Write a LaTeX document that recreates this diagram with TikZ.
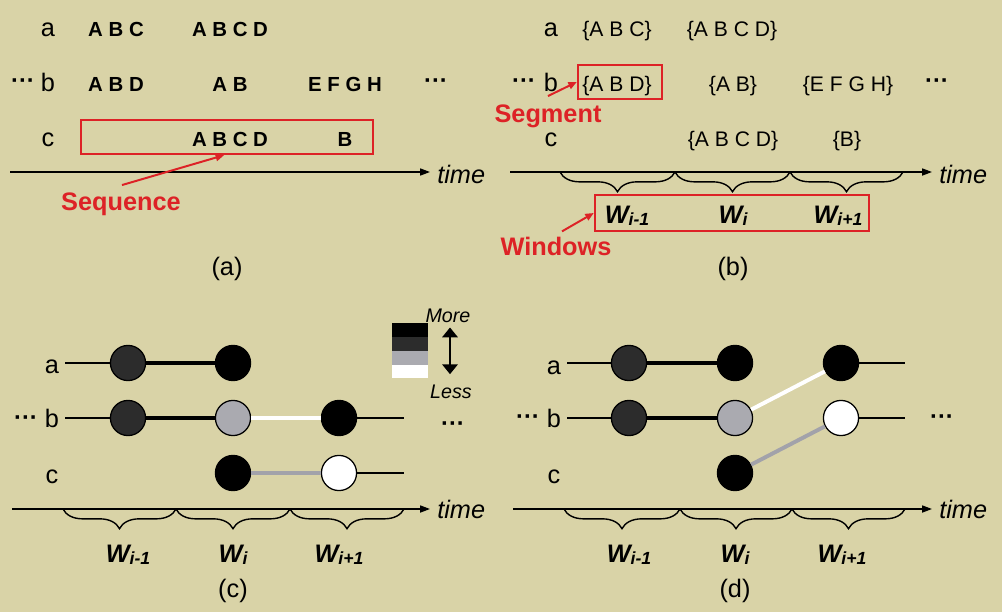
\documentclass[tikz,border=0pt]{standalone}
\usepackage{fontspec}
\setmainfont{Liberation Sans}
\usetikzlibrary{arrows.meta,calc,positioning,decorations.pathreplacing}
\definecolor{PaperTan}{RGB}{217,211,167}
\definecolor{MarkRed}{RGB}{221,34,38}
\definecolor{DarkDot}{RGB}{44,44,44}
\definecolor{PaleDot}{RGB}{170,170,176}
\definecolor{FadeGray}{RGB}{162,162,170}
\newcommand{\wsub}[1]{W\raisebox{-1.5pt}{\fontsize{12.5}{14}\selectfont #1}}
\tikzset{
  txt/.style={inner sep=0pt,anchor=base},
  rowlbl/.style={txt,font=\fontsize{18}{20}\selectfont},
  itemA/.style={txt,font=\bfseries\fontsize{14.5}{16}\selectfont},
  itemB/.style={txt,font=\fontsize{15}{17}\selectfont},
  moredots/.style={txt,font=\bfseries\fontsize{17}{18}\selectfont},
  redtag/.style={txt,font=\bfseries\fontsize{18}{20}\selectfont,text=MarkRed},
  redbox/.style={draw=MarkRed,line width=1.7pt,inner sep=0pt},
  redarrow/.style={draw=MarkRed,line width=1.4pt,-{Triangle[length=6pt,width=5pt]}},
  timeaxis/.style={line width=1pt,-{Triangle[length=7pt,width=5pt]}},
  timelbl/.style={inner sep=0pt,anchor=base west,font=\itshape\fontsize{18}{20}\selectfont},
  winbrace/.style={decorate,decoration={brace,mirror,amplitude=14pt},line width=1pt},
  winlbl/.style={txt,font=\bfseries\itshape\fontsize{18}{20}\selectfont},
  panellbl/.style={txt,font=\fontsize{18}{20}\selectfont},
  ball/.style={circle,draw=black,line width=0.9pt,minimum size=25pt,inner sep=0pt},
  tie/.style={line width=2.8pt},
  tail/.style={line width=0.9pt},
  scalelbl/.style={txt,font=\itshape\fontsize{14}{16}\selectfont},
  scalearrow/.style={line width=1.4pt,{Triangle[length=7pt,width=11pt]}-{Triangle[length=7pt,width=11pt]}},
}

\begin{document}
\begin{tikzpicture}[x=0.025cm,y=-0.025cm]
\useasboundingbox (0,0) rectangle (1002,612);
\fill[PaperTan] (0,0) rectangle (1002,612);

% (a) raw sequences
\node[rowlbl] (ra) at (48,36) {a};
\node[rowlbl] (rb) at (48,91) {b};
\node[rowlbl] (rc) at (48,146) {c};
\node[moredots] (la) at (23,88) {···};
\node[itemA] (a1) at (116,36) {A B C};
\node[itemA] (a2) at (230,36) {A B C D};
\node[itemA] (a3) at (116,91) {A B D};
\node[itemA] (a4) at (230,91) {A B};
\node[itemA] (a5) at (345,91) {E F G H};
\node[moredots] (ma) at (436,88) {···};
\node[itemA] (a6) at (230,146) {A B C D};
\node[itemA] (a7) at (345,146) {B};
\node[redbox,minimum width=7.3cm,minimum height=0.85cm] (seqbox) at (227,137) {};
\coordinate (ta0) at (10,172);
\coordinate (ta1) at (430,172);
\draw[timeaxis] (ta0) -- (ta1);
\node[timelbl] (tta) at (437,183) {time};
\node[redtag] (seq) at (121,210) {Sequence};
\draw[redarrow] ($(seq.north)+(1,-7)$) -- ($(seqbox.south west)!0.49!(seqbox.south east)$);
\node[panellbl] (capa) at (227,275) {(a)};

% (b) segments and windows
\node[rowlbl] (sa) at (551,36) {a};
\node[rowlbl] (sb) at (551,91) {b};
\node[rowlbl] (sc) at (551,146) {c};
\node[moredots] (lb) at (524,88) {···};
\node[itemB] (b1) at (617,36) {\{A B C\}};
\node[itemB] (b2) at (732,36) {\{A B C D\}};
\node[itemB] (b3) at (617,91) {\{A B D\}};
\node[itemB] (b4) at (733,91) {\{A B\}};
\node[itemB] (b5) at (848,91) {\{E F G H\}};
\node[moredots] (mb) at (937,88) {···};
\node[itemB] (b6) at (733,146) {\{A B C D\}};
\node[itemB] (b7) at (847,146) {\{B\}};
\node[redbox,minimum width=2.1cm,minimum height=0.85cm] (segbox) at (620,82) {};
\node[redtag] (seg) at (548,122) {Segment};
\draw[redarrow] ($(seg.north)+(0,-8)$) -- (segbox.west);
\coordinate (tb0) at (510,172);
\coordinate (tb1) at (932,172);
\draw[timeaxis] (tb0) -- (tb1);
\node[timelbl] (ttb) at (939,183) {time};
\coordinate (bk0) at (560,172);
\coordinate (bk1) at (675,172);
\coordinate (bk2) at (790,172);
\coordinate (bk3) at (903,172);
\draw[winbrace] (bk0) -- (bk1);
\draw[winbrace] (bk1) -- (bk2);
\draw[winbrace] (bk2) -- (bk3);
\node[winlbl] (bw1) at (627,223) {\wsub{i-1}};
\node[winlbl] (bw2) at (733,223) {\wsub{i}};
\node[winlbl] (bw3) at (838,223) {\wsub{i+1}};
\node[redbox,minimum width=6.85cm,minimum height=0.9cm] (winbox) at (732,213) {};
\node[redtag] (wins) at (556,255) {Windows};
\draw[redarrow] ($(wins.north)+(6,-5)$) -- (winbox.west);
\node[panellbl] (capb) at (733,275) {(b)};

% (c) pattern strength
\node[rowlbl] (pa) at (52,373) {a};
\node[rowlbl] (pb) at (52,427) {b};
\node[rowlbl] (pc) at (52,483) {c};
\node[moredots] (lc) at (26,425) {···};
\node[moredots] (mc) at (453,431) {···};
\node[ball,fill=DarkDot] (ca1) at (128,363) {};
\node[ball,fill=black] (ca2) at (233,363) {};
\node[ball,fill=DarkDot] (cb1) at (128,418) {};
\node[ball,fill=PaleDot] (cb2) at (233,418) {};
\node[ball,fill=black] (cb3) at (339,418) {};
\node[ball,fill=black] (cc2) at (233,473) {};
\node[ball,fill=white] (cc3) at (339,473) {};
\coordinate (ca0) at (65,363);
\coordinate (cb0) at (65,418);
\coordinate (cb4) at (404,418);
\coordinate (cc4) at (404,473);
\draw[tail] (ca0) -- (ca1);
\draw[tie] (ca1) -- (ca2);
\draw[tail] (cb0) -- (cb1);
\draw[tie] (cb1) -- (cb2);
\draw[tie,white] (cb2) -- (cb3);
\draw[tail] (cb3) -- (cb4);
\draw[tie,FadeGray] (cc2) -- (cc3);
\draw[tail] (cc3) -- (cc4);
\coordinate (tc0) at (12,509);
\coordinate (tc1) at (430,509);
\draw[timeaxis] (tc0) -- (tc1);
\node[timelbl] (ttc) at (437,518) {time};
\coordinate (ck0) at (63,509);
\coordinate (ck1) at (176,509);
\coordinate (ck2) at (290,509);
\coordinate (ck3) at (404,509);
\draw[winbrace] (ck0) -- (ck1);
\draw[winbrace] (ck1) -- (ck2);
\draw[winbrace] (ck2) -- (ck3);
\node[winlbl] (cw1) at (128,562) {\wsub{i-1}};
\node[winlbl] (cw2) at (233,562) {\wsub{i}};
\node[winlbl] (cw3) at (339,562) {\wsub{i+1}};
\node[panellbl] (capc) at (233,597) {(c)};
% shade legend
\fill[black] (392,323) rectangle (428,337);
\fill[DarkDot] (392,337) rectangle (428,351);
\fill[PaleDot] (392,351) rectangle (428,365);
\fill[white] (392,365) rectangle (428,378);
\node[scalelbl] (more) at (448,322) {More};
\node[scalelbl] (less) at (451,398) {Less};
\draw[scalearrow] ($(more.south)+(2,5)$) -- ($(less.north)+(-1,-10)$);

% (d) pattern shift
\node[rowlbl] (qa) at (554,374) {a};
\node[rowlbl] (qb) at (554,427) {b};
\node[rowlbl] (qc) at (554,483) {c};
\node[moredots] (ld) at (528,424) {···};
\node[moredots] (md) at (942,424) {···};
\node[ball,fill=DarkDot] (da1) at (629,363) {};
\node[ball,fill=black] (da2) at (735,363) {};
\node[ball,fill=black] (da3) at (841,363) {};
\node[ball,fill=DarkDot] (db1) at (629,418) {};
\node[ball,fill=PaleDot] (db2) at (735,418) {};
\node[ball,fill=white] (db3) at (841,418) {};
\node[ball,fill=black] (dc2) at (735,473) {};
\coordinate (da0) at (567,363);
\coordinate (da4) at (905,363);
\coordinate (db0) at (567,418);
\coordinate (db4) at (905,418);
\draw[tail] (da0) -- (da1);
\draw[tie] (da1) -- (da2);
\draw[tail] (da3) -- (da4);
\draw[tail] (db0) -- (db1);
\draw[tie] (db1) -- (db2);
\draw[tail] (db3) -- (db4);
\draw[tie,white] (db2) -- (da3);
\draw[tie,FadeGray] (dc2) -- (db3);
\coordinate (td0) at (513,509);
\coordinate (td1) at (932,509);
\draw[timeaxis] (td0) -- (td1);
\node[timelbl] (ttd) at (939,518) {time};
\coordinate (dk0) at (564,509);
\coordinate (dk1) at (680,509);
\coordinate (dk2) at (792,509);
\coordinate (dk3) at (905,509);
\draw[winbrace] (dk0) -- (dk1);
\draw[winbrace] (dk1) -- (dk2);
\draw[winbrace] (dk2) -- (dk3);
\node[winlbl] (dw1) at (629,562) {\wsub{i-1}};
\node[winlbl] (dw2) at (735,562) {\wsub{i}};
\node[winlbl] (dw3) at (842,562) {\wsub{i+1}};
\node[panellbl] (capd) at (735,597) {(d)};
\end{tikzpicture}
\end{document}
